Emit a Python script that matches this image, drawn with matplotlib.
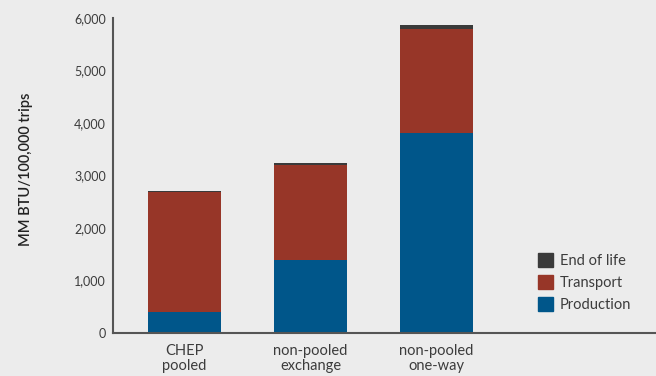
import matplotlib
matplotlib.use("Agg")
import matplotlib.pyplot as plt
from matplotlib.patches import Patch
from matplotlib.ticker import FuncFormatter

categories = ["CHEP\npooled", "non-pooled\nexchange", "non-pooled\none-way"]
production = [400, 1390, 3800]
transport = [2285, 1805, 1990]
end_of_life = [20, 40, 75]

yticks = [0, 1000, 2000, 3000, 4000, 5000, 6000]

bg = "#ececec"
c_prod = "#00568a"
c_trans = "#973628"
c_eol = "#3a3a3a"
axis_col = "#555555"
text_col = "#3c3c3c"

plt.rcParams["font.family"] = ["Lato", "DejaVu Sans"]

fig = plt.figure(figsize=(6.56, 3.76), dpi=100, facecolor=bg)
ax = fig.add_axes([0.1723, 0.1144, 0.8277, 0.8378], facecolor=bg)

x = list(range(len(categories)))
width = 0.58
ax.bar(x, production, width, color=c_prod, label="Production")
bottom2 = [p for p in production]
ax.bar(x, transport, width, bottom=bottom2, color=c_trans, label="Transport")
bottom3 = [p + t for p, t in zip(production, transport)]
ax.bar(x, end_of_life, width, bottom=bottom3, color=c_eol, label="End of life")

ax.set_xlim(-0.567, 3.743)
ax.set_ylim(0, 6000)
ax.set_yticks(yticks)
ax.yaxis.set_major_formatter(FuncFormatter(lambda v, p: f"{int(v):,}"))
ax.set_xticks(x)
ax.set_xticklabels(categories, fontsize=10.5, color=text_col, linespacing=1.05)

for s in ["top", "right"]:
    ax.spines[s].set_visible(False)
for s in ["left", "bottom"]:
    ax.spines[s].set_color(axis_col)
    ax.spines[s].set_linewidth(1.5)
ax.tick_params(axis="both", length=0)
ax.tick_params(axis="y", labelsize=9, labelcolor=text_col, pad=5)
ax.tick_params(axis="x", pad=8)

ax.set_ylabel("MM BTU/100,000 trips", fontsize=10.5, color="#222222",
              fontweight="semibold")
ax.yaxis.set_label_coords(-0.147, 0.52)

handles = [Patch(color=c_eol), Patch(color=c_trans), Patch(color=c_prod)]
labels = ["End of life", "Transport", "Production"]
leg = fig.legend(handles, labels, loc="lower left",
                 bbox_to_anchor=(538 / 656, 1 - 312 / 376),
                 frameon=False, fontsize=10.5, handlelength=1.05, handleheight=1.05,
                 handletextpad=0.45, labelspacing=0.5, borderaxespad=0,
                 borderpad=0)
for t in leg.get_texts():
    t.set_color(text_col)

fig.savefig("out.png", dpi=100, facecolor=bg)
